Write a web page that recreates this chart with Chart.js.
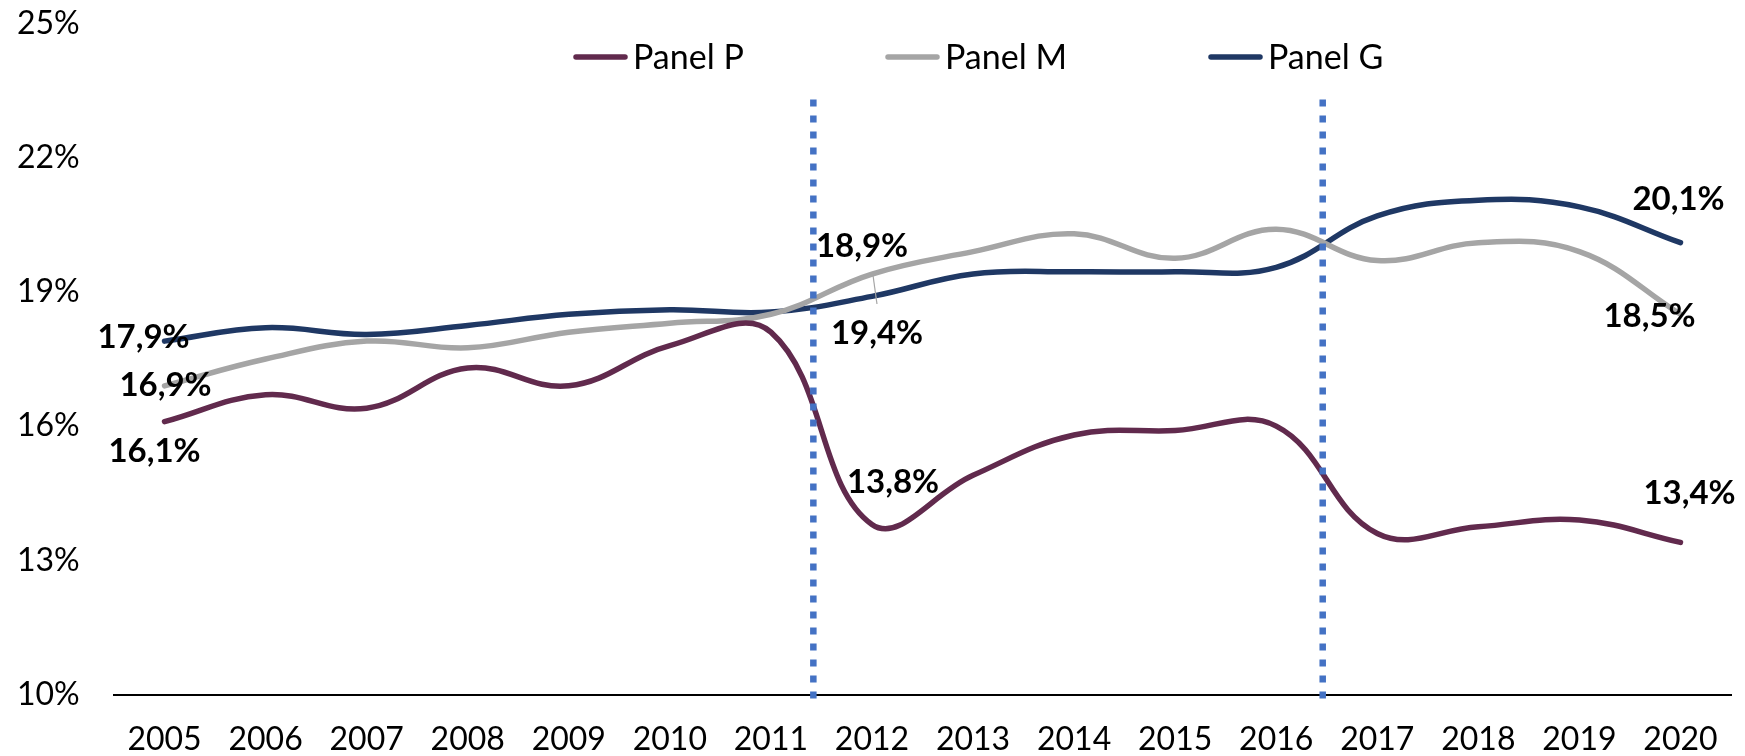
<!DOCTYPE html>
<html>
<head>
<meta charset="utf-8">
<script src="https://cdn.jsdelivr.net/npm/chart.js"></script>
<style>
    body { margin: 0; background: #fff; }
</style>
</head>
<body>
<canvas id="grafico" width="1745" height="756"></canvas>
<script>
// Datos
const anios = ['2005', '2006', '2007', '2008', '2009', '2010', '2011', '2012', '2013', '2014', '2015', '2016', '2017', '2018', '2019', '2020'];
const panelP = [16.1, 16.7, 16.4, 17.3, 16.9, 17.8, 18.1, 13.8, 14.9, 15.8, 15.9, 16.0, 13.6, 13.75, 13.9, 13.4];
const panelM = [16.9, 17.5, 17.9, 17.75, 18.1, 18.3, 18.5, 19.4, 19.9, 20.3, 19.75, 20.4, 19.7, 20.1, 19.9, 18.5];
const panelG = [17.9, 18.2, 18.05, 18.25, 18.5, 18.6, 18.55, 18.9, 19.4, 19.45, 19.45, 19.55, 20.7, 21.05, 20.9, 20.1];
const nombres = ['Panel P', 'Panel M', 'Panel G'];
const ejeY = { min: 10, max: 25, paso: 3 };
// cortes entre periodos (posición en el eje de categorías) y altura de las líneas punteadas
const cortes = [6.42, 11.46];
const corteArriba = 23.3;
const corteAbajo = 9.9;

const colores = ['#612A4D', '#A5A5A5', '#1F3864'];
const fuente = 'Lato, "Liberation Sans", sans-serif';

// etiquetas: serie, índice, desplazamiento del centro del texto respecto al punto
const etiquetas = [
    { serie: 0, i: 0, dx: -10, dy: 30 },
    { serie: 0, i: 7, dx: 21, dy: -42 },
    { serie: 0, i: 15, dx: 9, dy: -49 },
    { serie: 1, i: 0, dx: 1, dy: 0 },
    { serie: 1, i: 7, dx: 5, dy: 59, guia: true },
    { serie: 1, i: 15, dx: -31, dy: 2 },
    { serie: 2, i: 0, dx: -21, dy: -4 },
    { serie: 2, i: 7, dx: -10, dy: -50 },
    { serie: 2, i: 15, dx: -2, dy: -43 }
];

function formato(v) {
    return v.toFixed(1).replace('.', ',') + '%';
}

const lineasCorte = {
    id: 'lineasCorte',
    afterDatasetsDraw(chart) {
        const ctx = chart.ctx;
        const x = chart.scales.x;
        const y = chart.scales.y;
        ctx.save();
        ctx.strokeStyle = '#4472C4';
        ctx.lineWidth = 6.5;
        ctx.setLineDash([7, 9]);
        cortes.forEach(c => {
            const px = x.getPixelForValue(c);
            ctx.beginPath();
            ctx.moveTo(px, y.getPixelForValue(corteArriba));
            ctx.lineTo(px, y.getPixelForValue(corteAbajo));
            ctx.stroke();
        });
        ctx.restore();
    }
};

const rotulos = {
    id: 'rotulos',
    afterDraw(chart) {
        const ctx = chart.ctx;
        ctx.save();
        etiquetas.forEach(e => {
            const punto = chart.getDatasetMeta(e.serie).data[e.i];
            const valor = chart.data.datasets[e.serie].data[e.i];
            const lx = punto.x + e.dx;
            const ly = punto.y + e.dy;
            if (e.guia) {
                ctx.strokeStyle = '#A5A5A5';
                ctx.lineWidth = 1.2;
                ctx.beginPath();
                ctx.moveTo(punto.x + 1, punto.y + 1);
                ctx.lineTo(lx, ly - 29);
                ctx.stroke();
            }
            ctx.fillStyle = '#000';
            ctx.font = 'bold 33px ' + fuente;
            ctx.textAlign = 'center';
            ctx.textBaseline = 'middle';
            ctx.fillText(formato(valor), lx, ly);
        });

        // leyenda dibujada sobre el área del gráfico
        const inicios = [574, 886, 1209];
        const yLeyenda = 57;
        chart.data.datasets.forEach((ds, k) => {
            const x0 = inicios[k];
            ctx.strokeStyle = ds.borderColor;
            ctx.lineWidth = 5.5;
            ctx.lineCap = 'round';
            ctx.beginPath();
            ctx.moveTo(x0 + 2, yLeyenda);
            ctx.lineTo(x0 + 51, yLeyenda);
            ctx.stroke();
            ctx.fillStyle = '#000';
            ctx.font = '34px ' + fuente;
            ctx.textAlign = 'left';
            ctx.textBaseline = 'middle';
            ctx.fillText(ds.label, x0 + 59, yLeyenda + 1);
        });
        ctx.restore();
    }
};

const series = [panelP, panelM, panelG];

new Chart(document.getElementById('grafico'), {
    type: 'line',
    data: {
        labels: anios,
        datasets: series.map((s, k) => ({
            label: nombres[k],
            data: s,
            borderColor: colores[k],
            backgroundColor: colores[k],
            borderWidth: 5.5,
            borderCapStyle: 'round',
            pointRadius: 0,
            pointHoverRadius: 0,
            tension: 0.4,
            fill: false
        }))
    },
    options: {
        responsive: false,
        animation: false,
        devicePixelRatio: 1,
        layout: { padding: { left: 17, right: 14, top: 23.5, bottom: 0 } },
        plugins: {
            legend: { display: false },
            tooltip: { enabled: false }
        },
        scales: {
            x: {
                offset: true,
                grid: { display: false, drawTicks: false },
                border: { display: true, color: '#000', width: 2 },
                ticks: {
                    color: '#000',
                    font: { family: fuente, size: 32 },
                    padding: 26,
                    maxRotation: 0,
                    autoSkip: false
                },
                afterFit(s) { s.height = 61.5; }
            },
            y: {
                min: ejeY.min,
                max: ejeY.max,
                grid: { display: false, drawTicks: false },
                border: { display: false },
                ticks: {
                    stepSize: ejeY.paso,
                    color: '#000',
                    crossAlign: 'far',
                    font: { family: fuente, size: 32 },
                    callback: v => v + '%'
                },
                afterFit(s) { s.width = 97; }
            }
        }
    },
    plugins: [lineasCorte, rotulos]
});
</script>
</body>
</html>
